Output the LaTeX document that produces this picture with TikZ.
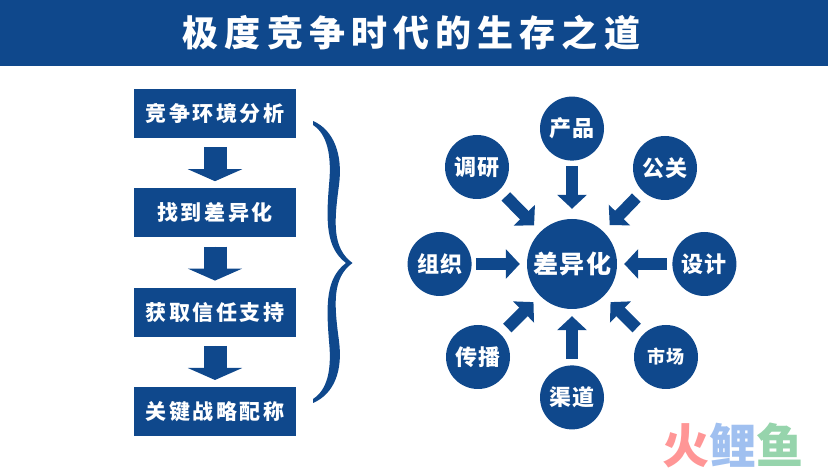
\documentclass[tikz,border=0pt]{standalone}
\usepackage{fontspec}
\newfontfamily\cjk{Noto Sans CJK SC}
\usetikzlibrary{arrows.meta, positioning}
\definecolor{BandFill}{RGB}{15,72,140}
\definecolor{MarkRed} {RGB}{255,150,150}
\definecolor{MarkBlue}{RGB}{160,192,240}
\definecolor{MarkGreen}{RGB}{150,212,172}
\tikzset{
  band/.style={
    rectangle, fill=BandFill, text=white, inner sep=0pt,
    minimum width=828pt, minimum height=66pt,
    font=\cjk\bfseries\fontsize{36}{40}\selectfont\addfontfeature{LetterSpace=17}
  },
  stage/.style={
    rectangle, fill=BandFill, text=white, inner sep=0pt,
    minimum width=162pt, minimum height=49pt,
    font=\cjk\bfseries\fontsize{21}{24}\selectfont\addfontfeature{LetterSpace=12}
  },
  spoke/.style={
    circle, fill=BandFill, text=white, inner sep=0pt, minimum size=64pt,
    font=\cjk\bfseries\fontsize{22}{24}\selectfont\addfontfeature{LetterSpace=4}
  },
  hub/.style={
    circle, fill=BandFill, text=white, inner sep=0pt, minimum size=90pt,
    font=\cjk\bfseries\fontsize{25}{28}\selectfont\addfontfeature{LetterSpace=6}
  },
  % Block arrows: a thick shaft and a wide flat head
  stagearr/.style={-{Triangle[width=54pt,length=12pt]}, draw=BandFill, fill=BandFill, line width=23pt, shorten <=9pt, shorten >=7pt},
  spokearr/.style={-{Triangle[width=29pt,length=14pt]}, draw=BandFill, fill=BandFill, line width=12pt}
}
\begin{document}
\begin{tikzpicture}[x=1pt, y=1pt, node distance=50pt]
  \useasboundingbox (0,0) rectangle (828,-470);

  %% ── Title ──────────────────────────────────────────────────────────────────
  \node[band] (title) at (414,-33) {极度竞争时代的生存之道\hspace*{5pt}};

  %% ── Left column ────────────────────────────────────────────────────────────
  \node[stage] (env) at (215,-113.5) {竞争环境分析};
  \node[stage, below=of env] (find) {找到差异化};
  \node[stage, below=of find] (trust) {获取信任支持};
  \node[stage, below=of trust] (match) {关键战略配称};

  \draw[stagearr] (env) -- (find);
  \draw[stagearr] (find) -- (trust);
  \draw[stagearr] (trust) -- (match);

  %% ── Brace ──────────────────────────────────────────────────────────────────
  \fill[BandFill] (313,-121)
    .. controls (334,-130) and (343,-155) .. (339,-185)
    .. controls (334,-222) and (332,-248) .. (352.5,-263)
    .. controls (332,-278) and (334,-304) .. (339,-341)
    .. controls (343,-371) and (334,-394) .. (313,-403)
    -- (313,-399)
    .. controls (327,-390) and (332,-371) .. (329,-341)
    .. controls (326,-304) and (326,-278) .. (346,-263)
    .. controls (326,-248) and (326,-222) .. (329,-185)
    .. controls (332,-155) and (327,-134) .. (313,-125)
    -- cycle;

  %% ── Right wheel ────────────────────────────────────────────────────────────
  \node[hub] (diff) at (572,-264) {差异化};

  \node[spoke, above=58pt of diff] (prod) {产品};
  \node[spoke, below=56pt of diff] (chan) {渠道};
  \node[spoke, left=55pt of diff] (org) {组织};
  \node[spoke, right=55pt of diff] (dsgn) {设计};
  \node[spoke] (rsch) at ([shift={(-95,97)}]diff.center) {调研};
  \node[spoke] (pr) at ([shift={(93,96)}]diff.center) {公关};
  \node[spoke] (spread) at ([shift={(-94,-93)}]diff.center) {传播};
  \node[spoke, font=\cjk\bfseries\fontsize{18}{20}\selectfont\addfontfeature{LetterSpace=4}] (mkt)
    at ([shift={(94,-93)}]diff.center) {市场};

  \draw[spokearr, shorten <=5pt, shorten >=10pt] (prod) -- (diff);
  \draw[spokearr, shorten <=6pt, shorten >=7pt] (chan) -- (diff);
  \draw[spokearr, shorten <=4pt, shorten >=7pt] (org) -- (diff);
  \draw[spokearr, shorten <=5pt, shorten >=7pt] (dsgn) -- (diff);
  \draw[spokearr, shorten <=9pt, shorten >=9pt] (rsch) -- (diff);
  \draw[spokearr, shorten <=9pt, shorten >=9pt] (pr) -- (diff);
  \draw[spokearr, shorten <=9pt, shorten >=9pt] (spread) -- (diff);
  \draw[spokearr, shorten <=9pt, shorten >=9pt] (mkt) -- (diff);

  %% ── Corner mark ────────────────────────────────────────────────────────────
  \node[inner sep=0pt, font=\cjk\bfseries\fontsize{47}{50}\selectfont\addfontfeature{LetterSpace=6}] (mark) at (733,-445)
    {\textcolor{MarkRed}{火}\textcolor{MarkBlue}{鲤}\textcolor{MarkGreen}{鱼}};

\end{tikzpicture}
\end{document}
